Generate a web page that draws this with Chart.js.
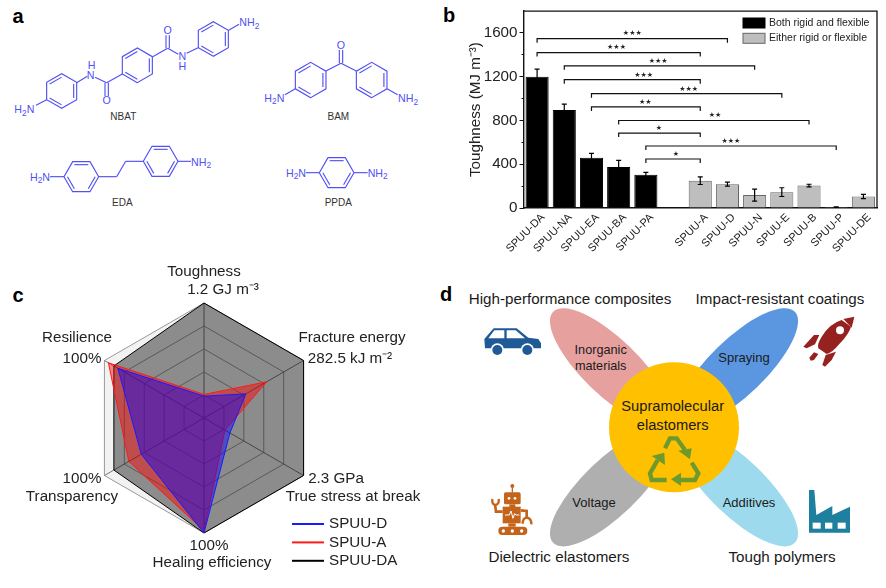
<!DOCTYPE html>
<html>
<head>
<meta charset="utf-8">
<style>
  html, body { margin: 0; padding: 0; background: #fff; overflow: hidden; }
  #page { position: relative; width: 886px; height: 588px; font-family: "Liberation Sans", Arial, sans-serif; }
  #art { position: absolute; left: 0; top: 0; }
  canvas { position: absolute; }
  #toughChart { left: 440px; top: 0; }
  #radarChart { left: 0; top: 255px; }
</style>
</head>
<body>
<div id="page">
  <svg id="art" width="886" height="588" viewBox="0 0 886 588"></svg>
  <canvas id="toughChart" width="446" height="270"></canvas>
  <canvas id="radarChart" width="430" height="333"></canvas>
</div>

<script src="https://cdn.jsdelivr.net/npm/chart.js"></script>
<script>
// panel b
const samples = ['SPUU-DA', 'SPUU-NA', 'SPUU-EA', 'SPUU-BA', 'SPUU-PA', '', 'SPUU-A', 'SPUU-D', 'SPUU-N', 'SPUU-E', 'SPUU-B', 'SPUU-P', 'SPUU-DE'];
const bothValues = [1200, 895, 460, 375, 305, null, null, null, null, null, null, null, null];
const eitherValues = [null, null, null, null, null, null, 250, 218, 118, 145, 205, 8, 105];
const toughErrors = [70, 55, 40, 60, 20, 0, 35, 18, 55, 40, 12, 2, 20];
const sigFrom = [0, 0, 1, 1, 2, 2, 3, 3, 4, 4];
const sigTo = [7, 6, 8, 6, 9, 6, 10, 6, 11, 6];
const sigLevel = [1548, 1421, 1300, 1173, 1045, 924, 800, 685, 567, 448];
const sigStars = ['★★★', '★★★', '★★★', '★★★', '★★★', '★★', '★★', '★', '★★★', '★'];
const sigStarAt = [3.5, 2.92, 4.45, 3.92, 5.57, 3.98, 6.54, 4.48, 7.13, 5.1];

// panel c
const radarAxes = ['Toughness', 'Fracture energy', 'True stress at break', 'Healing efficiency', 'Transparency', 'Resilience'];
const radarLimits = ['1.2 GJ m⁻³', '282.5 kJ m⁻²', '2.3 GPa', '100%', '100%', '100%'];
const spuuD = [0.19, 0.42, 0.26, 1, 0.63, 0.865];
const spuuA = [0.205, 0.63, 0.21, 0.98, 0.755, 0.96];
const spuuDA = [1, 1, 1, 1, 0.905, 0.905];

const FONT = '"Liberation Sans", Arial, sans-serif';
Chart.defaults.font.family = FONT;
Chart.defaults.animation = false;

const errorBars = {
  id: 'errorBars',
  afterDatasetsDraw(chart) {
    const { ctx, scales: { x, y } } = chart;
    ctx.save();
    ctx.strokeStyle = '#000';
    ctx.lineWidth = 1.2;
    samples.forEach((s, i) => {
      const v = bothValues[i] ?? eitherValues[i];
      if (v == null) return;
      const px = x.getPixelForValue(i);
      const top = y.getPixelForValue(v + toughErrors[i]);
      const low = y.getPixelForValue(v - toughErrors[i]);
      ctx.beginPath();
      ctx.moveTo(px, low); ctx.lineTo(px, top);
      ctx.moveTo(px - 2.5, top); ctx.lineTo(px + 2.5, top);
      ctx.moveTo(px - 2.5, low); ctx.lineTo(px + 2.5, low);
      ctx.stroke();
    });
    ctx.restore();
  }
};

const brackets = {
  id: 'brackets',
  afterDraw(chart) {
    const { ctx, scales: { x, y }, chartArea: a } = chart;
    ctx.save();
    // top and right sides of the frame
    ctx.strokeStyle = '#111';
    ctx.lineWidth = 1.3;
    ctx.beginPath();
    ctx.moveTo(a.left, a.top); ctx.lineTo(a.right, a.top); ctx.lineTo(a.right, a.bottom);
    ctx.stroke();
    sigLevel.forEach((lvl, i) => {
      const x1 = x.getPixelForValue(sigFrom[i]);
      const x2 = x.getPixelForValue(sigTo[i]);
      const py = y.getPixelForValue(lvl);
      ctx.beginPath();
      ctx.moveTo(x1, py + 4); ctx.lineTo(x1, py); ctx.lineTo(x2, py); ctx.lineTo(x2, py + 4);
      ctx.strokeStyle = '#111';
      ctx.lineWidth = 1.2;
      ctx.stroke();
      ctx.fillStyle = '#222';
      ctx.font = '7px "DejaVu Sans"';
      ctx.textAlign = 'center';
      ctx.textBaseline = 'middle';
      ctx.fillText(sigStars[i], x.getPixelForValue(sigStarAt[i]), py - 5);
    });
    // legend, taken from the datasets
    chart.data.datasets.forEach((d, i) => {
      const top = 18 + i * 15.3;
      ctx.fillStyle = d.backgroundColor;
      ctx.strokeStyle = d.borderColor;
      ctx.lineWidth = 1;
      ctx.fillRect(303, top, 22, 10);
      ctx.strokeRect(303, top, 22, 10);
      ctx.fillStyle = '#222';
      ctx.font = '10.5px ' + FONT;
      ctx.textAlign = 'left';
      ctx.fillText(d.label, 329, top + 5);
    });
    ctx.restore();
  }
};

new Chart(document.getElementById('toughChart'), {
  type: 'bar',
  data: {
    labels: samples,
    datasets: [
      { label: 'Both rigid and flexible', data: bothValues, backgroundColor: '#000', borderColor: '#000', borderWidth: 1 },
      { label: 'Either rigid or flexible', data: eitherValues, backgroundColor: '#bebebe', borderColor: '#666', borderWidth: 1 }
    ]
  },
  options: {
    responsive: false,
    layout: { padding: { top: 10.5, right: 9 } },
    plugins: { legend: { display: false }, tooltip: { enabled: false } },
    datasets: { bar: { categoryPercentage: 1, barPercentage: 0.85 } },
    scales: {
      x: {
        stacked: true,
        afterFit(s) { s.height = 62; },
        grid: { display: false, drawTicks: false },
        border: { color: '#111', width: 1.4 },
        ticks: { minRotation: 45, maxRotation: 45, autoSkip: false, padding: 3, labelOffset: 6, color: '#222', font: { size: 11 } }
      },
      y: {
        min: 0,
        max: 1800,
        afterFit(s) { s.width = 83.5; },
        grid: {
          drawOnChartArea: false,
          tickLength: 4,
          tickColor: c => (c.tick.value === 1800 ? 'transparent' : '#111'),
          tickBorderDash: c => (c.tick.value % 400 ? [2, 2] : []),
          tickBorderDashOffset: c => (c.tick.value % 400 ? 2 : 0)
        },
        border: { color: '#111', width: 1.4 },
        ticks: {
          stepSize: 200,
          padding: 2,
          color: '#222',
          font: { size: 15.2 },
          callback: v => (v % 400 === 0 ? String(v) : '')
        },
        title: {
          display: true,
          text: 'Toughness (MJ m⁻³)',
          color: '#222',
          font: { size: 15.2 },
          padding: { top: 27, bottom: 0 }
        }
      }
    }
  },
  plugins: [errorBars, brackets]
});

// label anchors for panel c in canvas pixels, same order as radarAxes
const axisNamePos = [[204, 17], [352, 83], [353, 242], [212, 308], [72, 242], [77, 83]];
const axisLimitPos = [[223, 35], [350, 104], [336, 224], [209, 291], [82, 224], [82, 104]];

const radarText = {
  id: 'radarText',
  afterDraw(chart) {
    const { ctx } = chart;
    ctx.save();
    ctx.fillStyle = '#222';
    ctx.font = '15.2px ' + FONT;
    ctx.textAlign = 'center';
    ctx.textBaseline = 'middle';
    radarAxes.forEach((name, i) => {
      ctx.fillText(name, axisNamePos[i][0], axisNamePos[i][1]);
      ctx.fillText(radarLimits[i], axisLimitPos[i][0], axisLimitPos[i][1]);
    });
    // legend, taken from the datasets
    ctx.textAlign = 'left';
    chart.data.datasets.forEach((d, i) => {
      const py = 269 + i * 18.4;
      ctx.strokeStyle = d.borderColor;
      ctx.lineWidth = 2;
      ctx.beginPath();
      ctx.moveTo(292, py); ctx.lineTo(324, py);
      ctx.stroke();
      ctx.fillText(d.label, 329, py);
    });
    ctx.restore();
  }
};

new Chart(document.getElementById('radarChart'), {
  type: 'radar',
  data: {
    labels: radarAxes,
    datasets: [
      { label: 'SPUU-D', data: spuuD, borderColor: '#1a1aff', backgroundColor: 'rgba(0,0,255,0.45)', borderWidth: 1, pointRadius: 0, fill: true },
      { label: 'SPUU-A', data: spuuA, borderColor: '#ff1a1a', backgroundColor: 'rgba(255,0,0,0.45)', borderWidth: 1, pointRadius: 0, fill: true },
      { label: 'SPUU-DA', data: spuuDA, borderColor: '#000', backgroundColor: 'rgba(0,0,0,0.42)', borderWidth: 1, pointRadius: 0, fill: true }
    ]
  },
  options: {
    responsive: false,
    layout: { padding: { left: 89, right: 110, top: 48, bottom: 54 } },
    plugins: { legend: { display: false }, tooltip: { enabled: false } },
    scales: {
      r: {
        min: 0,
        max: 1,
        backgroundColor: '#f2f2f2',
        grid: { color: '#999', lineWidth: 1 },
        angleLines: { color: '#777', lineWidth: 1 },
        pointLabels: { display: false },
        ticks: { display: false, stepSize: 0.2 }
      }
    }
  },
  plugins: [radarText]
});

// panels a and d are drawings, not data: plain SVG
function hexRing(cx, cy, r, pointy) {
  const pts = [];
  for (let k = 0; k < 6; k++) {
    const t = (k * 60 + (pointy ? 90 : 0)) * Math.PI / 180;
    pts.push([cx + r * Math.cos(t), cy + r * Math.sin(t)]);
  }
  let out = `<polygon points="${pts.map(p => p.join(',')).join(' ')}"/>`;
  for (let k = 0; k < 6; k += 2) {
    const a = pts[k], b = pts[(k + 1) % 6];
    const ia = [cx + (a[0] - cx) * 0.8, cy + (a[1] - cy) * 0.8];
    const ib = [cx + (b[0] - cx) * 0.8, cy + (b[1] - cy) * 0.8];
    out += `<line x1="${ia[0]}" y1="${ia[1]}" x2="${ib[0]}" y2="${ib[1]}"/>`;
  }
  return out;
}
const segs = list => list.map(s => `<line x1="${s[0]}" y1="${s[1]}" x2="${s[2]}" y2="${s[3]}"/>`).join('');
const blueText = (x, y, t, sub, tail) =>
  `<text x="${x}" y="${y}" text-anchor="middle">${t}${sub ? `<tspan dy="7" font-size="25">${sub}</tspan>` : ''}${tail ? `<tspan dy="-7">${tail}</tspan>` : ''}</text>`;

const blue = '#5050f5';
let chem = `<g transform="scale(${1 / 3})"><g fill="none" stroke="${blue}" stroke-width="3.4">`;
chem += hexRing(185, 273, 52, true) + hexRing(412, 196, 52, true) + hexRing(640, 117, 52, true);
chem += hexRing(932, 240, 53, true) + hexRing(1115, 240, 53, true);
chem += hexRing(244, 530, 52, false) + hexRing(482, 484, 52, false) + hexRing(1010, 518, 52, false);
chem += segs([
  [140, 299, 108, 316], [230, 248, 262, 229], [285, 232, 320, 248], [315, 248, 315, 288], [325, 248, 325, 288], [320, 248, 367, 222],
  [458, 170, 503, 145], [498, 145, 498, 106], [508, 145, 508, 106], [503, 145, 535, 163], [560, 160, 594, 143], [686, 91, 717, 73],
  [978, 213, 1023, 190], [1069, 213, 1023, 190], [1018, 190, 1018, 150], [1028, 190, 1028, 150], [886, 266, 855, 284], [1161, 266, 1193, 284],
  [150, 530, 192, 530], [296, 530, 350, 530], [350, 530, 377, 484], [377, 484, 430, 484], [534, 484, 573, 484],
  [918, 518, 958, 518], [1062, 518, 1103, 518]
]);
chem += `</g><g fill="${blue}" stroke="none" font-size="32">`;
chem += blueText(73, 340, 'H', '2', 'N') + blueText(272, 238, 'N') + blueText(275, 206, 'H') + blueText(320, 313, 'O');
chem += blueText(503, 103, 'O') + blueText(547, 181, 'N') + blueText(547, 209, 'H') + blueText(748, 79, 'NH', '2');
chem += blueText(1023, 147, 'O') + blueText(823, 305, 'H', '2', 'N') + blueText(1224, 307, 'NH', '2');
chem += blueText(120, 543, 'H', '2', 'N') + blueText(603, 498, 'NH', '2') + blueText(888, 531, 'H', '2', 'N') + blueText(1133, 531, 'NH', '2');
chem += `</g><g fill="#333" font-size="30" text-anchor="middle">`;
chem += `<text x="370" y="361">NBAT</text><text x="1015" y="361">BAM</text><text x="367" y="617">EDA</text><text x="1015" y="619">PPDA</text>`;
chem += `</g></g>`;

const panelLetters = [['a', 18, 23], ['b', 449, 22], ['c', 18, 302], ['d', 446, 301]]
  .map(l => `<text x="${l[1]}" y="${l[2]}" font-size="20" font-weight="bold" text-anchor="middle" fill="#000">${l[0]}</text>`).join('');

const cx = 674, cy = 427.3;
let uses = '';
[[610.7, 367.3, 44, '#e6a19f'], [737.3, 367.3, -44, '#5b97e1'], [610.7, 487.3, -44, '#afafaf'], [737.3, 487.3, 44, '#9edaee']].forEach(e => {
  uses += `<ellipse cx="${e[0]}" cy="${e[1]}" rx="80" ry="28" fill="${e[3]}" transform="rotate(${e[2]} ${e[0]} ${e[1]})"/>`;
});
uses += `<circle cx="${cx}" cy="${cy}" r="65" fill="#ffc000"/>`;
// recycling arrows
uses += `<g transform="translate(435,280) scale(${1 / 3})" fill="none" stroke="#6d9a2e" stroke-width="13">
  <polyline points="695,600 650,600 645,580 668,540"/>
  <polyline points="690,505 705,475 725,475 750,510"/>
  <polyline points="770,548 790,580 780,600 735,600"/>
  <g fill="#6d9a2e" stroke="none">
    <polygon points="650,528 688,518 690,555"/>
    <polygon points="730,512 770,505 765,538"/>
    <polygon points="738,578 738,618 708,598"/>
  </g>
</g>`;
// car
uses += `<g transform="translate(475,315) scale(${1 / 3})" fill="#205a96">
  <path d="M56 40 L125 40 L160 68 L190 72 L198 85 L198 100 L30 100 L28 72 Z"/>
  <path d="M40 70 L58 46 L88 46 L88 70 Z M95 46 L122 46 L150 70 L95 70 Z" fill="#fff"/>
  <circle cx="67" cy="105" r="20" fill="#fff"/><circle cx="157" cy="105" r="20" fill="#fff"/>
  <circle cx="67" cy="105" r="15"/><circle cx="157" cy="105" r="15"/>
</g>`;
// rocket
uses += `<g transform="translate(790,305) scale(${1 / 3})" fill="#96221f">
  <path d="M155 45 Q120 55 95 95 Q80 120 85 130 L110 147 Q125 145 150 115 Q178 85 183 65 Z"/>
  <polygon points="160,42 193,35 185,68"/>
  <circle cx="150" cy="76" r="12" fill="#fff"/>
  <polygon points="40,125 72,90 88,90 75,118 50,130"/>
  <polygon points="58,158 72,142 85,147 72,165 62,167"/>
  <polygon points="97,180 107,150 138,140 125,165 105,185"/>
</g>`;
// robot
uses += `<g transform="translate(480,475) scale(${1 / 3})" fill="#c4641a" stroke="none">
  <rect x="72" y="52" width="50" height="36" rx="5"/>
  <circle cx="97" cy="33" r="6"/><rect x="95" y="35" width="4" height="18"/>
  <circle cx="87" cy="70" r="4" fill="#fff"/><circle cx="105" cy="70" r="4" fill="#fff"/>
  <rect x="88" y="88" width="18" height="8"/>
  <rect x="68" y="95" width="54" height="50"/>
  <polyline points="75,120 88,120 93,108 99,130 104,116 108,120 118,120" fill="none" stroke="#fff" stroke-width="3"/>
  <polyline points="68,110 48,110 45,88" fill="none" stroke="#c4641a" stroke-width="8"/>
  <path d="M37 72 Q35 88 46 90 Q58 88 56 72" fill="none" stroke="#c4641a" stroke-width="7"/>
  <polyline points="122,106 140,108 140,128" fill="none" stroke="#c4641a" stroke-width="8"/>
  <path d="M128 146 Q128 128 142 128 Q155 132 154 148" fill="none" stroke="#c4641a" stroke-width="7"/>
  <rect x="85" y="145" width="22" height="10"/>
  <rect x="55" y="155" width="87" height="25" rx="12"/>
  <circle cx="70" cy="168" r="5" fill="#fff"/><circle cx="97" cy="168" r="5" fill="#fff"/><circle cx="125" cy="168" r="5" fill="#fff"/>
</g>`;
// factory
uses += `<g transform="translate(795,480) scale(${1 / 3})" fill="#1f7f9e">
  <polygon points="42,158 42,30 58,30 64,105 112,78 112,105 165,80 165,158"/>
  <g fill="#fff"><rect x="53" y="128" width="24" height="18"/><rect x="90" y="128" width="22" height="18"/><rect x="128" y="128" width="24" height="18"/></g>
</g>`;

const words = [
  ['High-performance composites', 570, 304, 15.2], ['Impact-resistant coatings', 780, 304, 15.2],
  ['Dielectric elastomers', 559, 562, 15.2], ['Tough polymers', 782, 562, 15.2],
  ['Inorganic', 600.7, 354, 12.7], ['materials', 600.7, 370, 12.7], ['Spraying', 744, 362, 13],
  ['Voltage', 594, 507, 13], ['Additives', 749, 507, 13],
  ['Supramolecular', 672.7, 411, 14.7], ['elastomers', 672.7, 430, 14.7]
].map(w => `<text x="${w[1]}" y="${w[2]}" font-size="${w[3]}" text-anchor="middle" fill="#1a1a1a">${w[0]}</text>`).join('');

document.getElementById('art').innerHTML = chem + panelLetters + uses + words;
</script>
</body>
</html>
